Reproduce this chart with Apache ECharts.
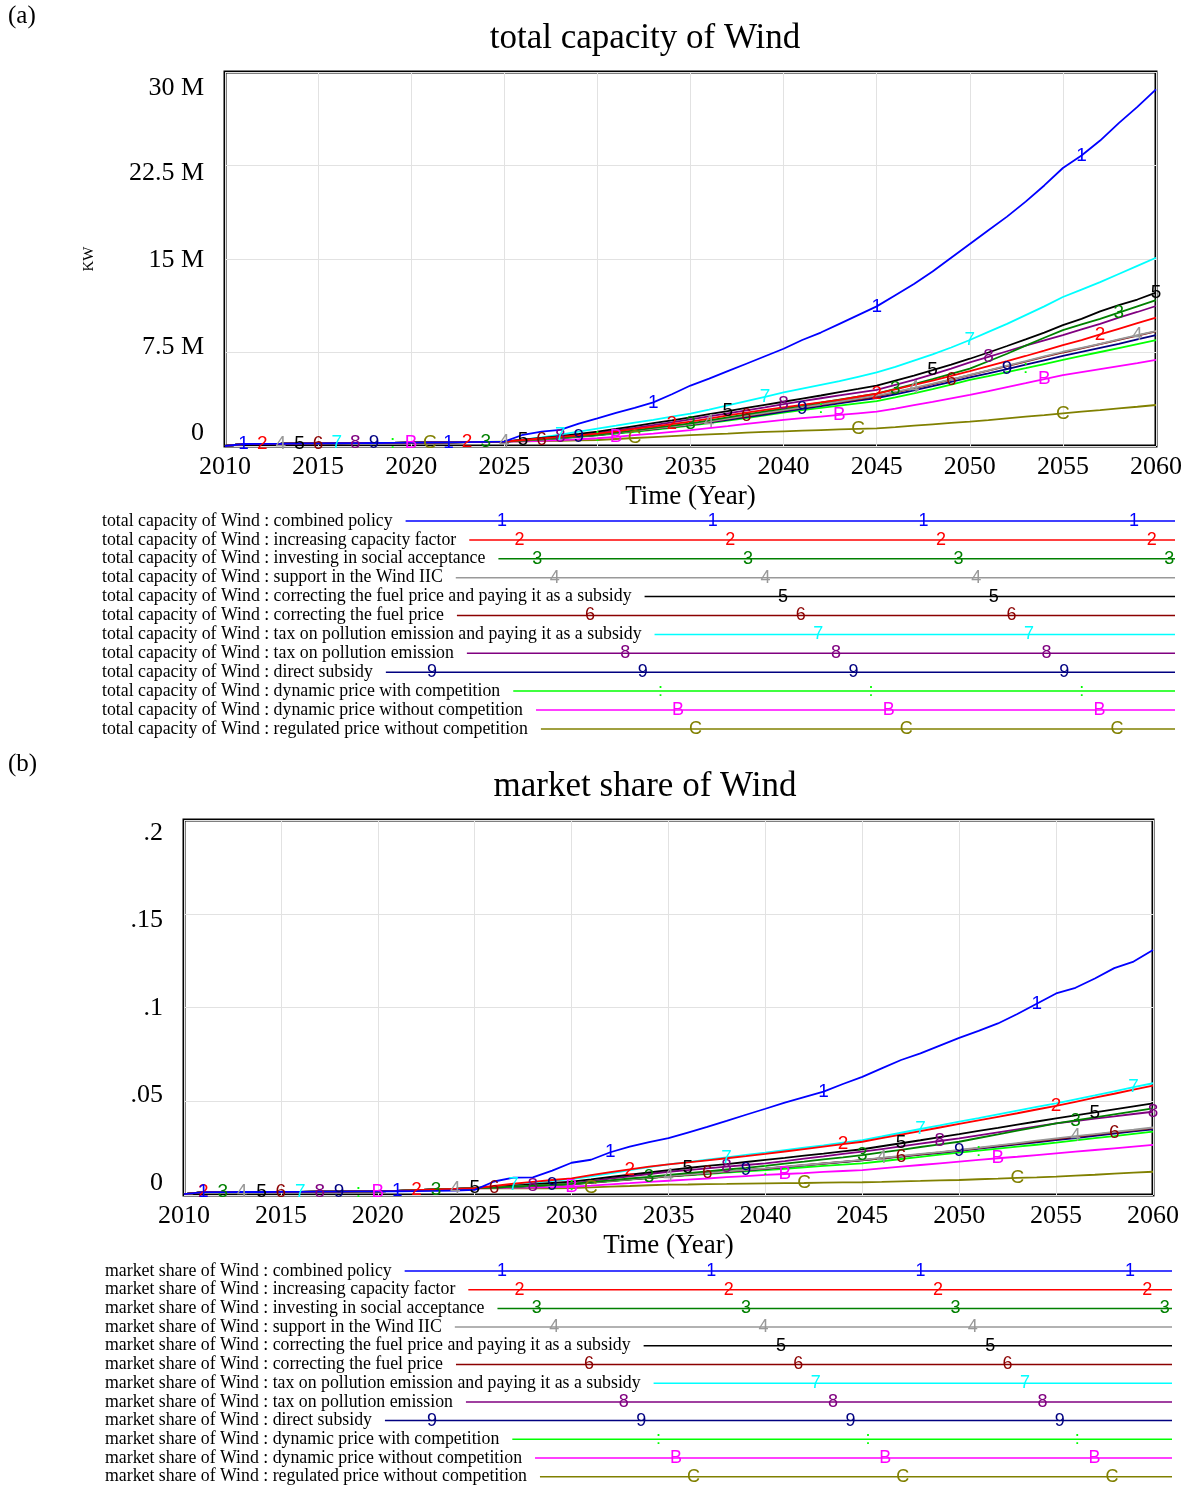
<!DOCTYPE html>
<html>
<head>
<meta charset="utf-8">
<script src="https://cdn.jsdelivr.net/npm/echarts@6/dist/echarts.min.js"></script>
<style>
  html, body { margin: 0; padding: 0; background: #fff; }
  #chart { width: 1192px; height: 1489px; }
</style>
</head>
<body>
<div id="chart"></div>
<script>
// policy scenarios, same order in both panels
const scenarios = [
  'combined policy',
  'increasing capacity factor',
  'investing in social acceptance',
  'support in the Wind IIC',
  'correcting the fuel price and paying it as a subsidy',
  'correcting the fuel price',
  'tax on pollution emission and paying it as a subsidy',
  'tax on pollution emission',
  'direct subsidy',
  'dynamic price with competition',
  'dynamic price without competition',
  'regulated price without competition'
];
const glyphs = ['1', '2', '3', '4', '5', '6', '7', '8', '9', ':', 'B', 'C'];
const colors = ['#0000ff', '#ff0000', '#008000', '#999999', '#000000', '#8b0000',
                '#00ffff', '#800080', '#000080', '#00ff00', '#ff00ff', '#808000'];

const years = [];
for (let y = 2010; y <= 2060; y++) years.push(y);

// ---- (a) total capacity of Wind, million KW ----
// 2010..2025, all scenarios run together
const capEarly = [0, 0.16, 0.17, 0.18, 0.2, 0.21, 0.22, 0.23, 0.24, 0.25, 0.27, 0.28, 0.29, 0.31, 0.33, 0.35];
// 2026..2060
const capCombined = [0.9, 1.15, 1.3, 1.8, 2.22, 2.65, 3.05, 3.5, 4.15, 4.85, 5.4, 6.0, 6.6, 7.2, 7.8, 8.5, 9.1, 9.8, 10.5, 11.2, 12.1, 13.0, 14.0, 15.1, 16.2, 17.3, 18.4, 19.6, 20.9, 22.3, 23.3, 24.5, 25.9, 27.2, 28.6];
const capCapFactor = [0.48, 0.6, 0.73, 0.86, 1.0, 1.18, 1.37, 1.56, 1.75, 1.95, 2.2, 2.45, 2.68, 2.9, 3.1, 3.3, 3.5, 3.7, 3.95, 4.2, 4.55, 4.9, 5.25, 5.62, 6.0, 6.4, 6.8, 7.22, 7.65, 8.1, 8.5, 8.95, 9.4, 9.85, 10.3];
const capSocial = [0.45, 0.55, 0.67, 0.78, 0.9, 1.08, 1.26, 1.45, 1.63, 1.82, 2.05, 2.3, 2.53, 2.77, 3.0, 3.23, 3.47, 3.72, 3.96, 4.2, 4.58, 4.97, 5.37, 5.78, 6.2, 6.8, 7.4, 8.05, 8.68, 9.3, 9.75, 10.2, 10.7, 11.2, 11.7];
const capIIC = [0.45, 0.54, 0.65, 0.77, 0.9, 1.05, 1.22, 1.39, 1.56, 1.74, 1.96, 2.2, 2.43, 2.66, 2.88, 3.1, 3.33, 3.57, 3.8, 4.05, 4.35, 4.67, 5.0, 5.35, 5.7, 6.07, 6.44, 6.8, 7.18, 7.56, 7.88, 8.2, 8.55, 8.9, 9.22];
const capFuelSubsidy = [0.5, 0.65, 0.8, 0.97, 1.15, 1.37, 1.6, 1.83, 2.06, 2.3, 2.55, 2.8, 3.05, 3.3, 3.55, 3.8, 4.05, 4.32, 4.58, 4.85, 5.25, 5.65, 6.08, 6.53, 7.0, 7.5, 8.02, 8.55, 9.1, 9.7, 10.2, 10.8, 11.3, 11.75, 12.3];
const capFuel = [0.45, 0.54, 0.65, 0.77, 0.9, 1.05, 1.21, 1.38, 1.55, 1.72, 1.94, 2.17, 2.4, 2.62, 2.85, 3.07, 3.3, 3.52, 3.75, 3.98, 4.3, 4.63, 4.97, 5.33, 5.68, 6.04, 6.41, 6.77, 7.14, 7.5, 7.84, 8.18, 8.52, 8.86, 9.2];
const capTaxSubsidy = [0.5, 0.7, 0.92, 1.15, 1.4, 1.63, 1.87, 2.1, 2.35, 2.6, 2.92, 3.25, 3.6, 3.95, 4.3, 4.6, 4.9, 5.2, 5.55, 5.9, 6.35, 6.85, 7.35, 7.9, 8.5, 9.15, 9.8, 10.5, 11.2, 11.95, 12.55, 13.15, 13.8, 14.45, 15.1];
const capTax = [0.48, 0.6, 0.74, 0.9, 1.05, 1.25, 1.45, 1.68, 1.9, 2.14, 2.38, 2.62, 2.86, 3.1, 3.35, 3.6, 3.83, 4.06, 4.28, 4.5, 4.9, 5.3, 5.75, 6.2, 6.7, 7.15, 7.6, 8.05, 8.48, 8.9, 9.35, 9.8, 10.3, 10.75, 11.23];
const capDirect = [0.44, 0.53, 0.64, 0.76, 0.88, 1.03, 1.19, 1.35, 1.52, 1.7, 1.9, 2.1, 2.31, 2.52, 2.75, 2.98, 3.2, 3.42, 3.64, 3.85, 4.15, 4.47, 4.8, 5.15, 5.5, 5.83, 6.17, 6.52, 6.87, 7.22, 7.55, 7.88, 8.2, 8.55, 8.9];
const capDynComp = [0.43, 0.52, 0.62, 0.73, 0.85, 0.99, 1.14, 1.3, 1.46, 1.63, 1.83, 2.03, 2.24, 2.45, 2.68, 2.88, 3.06, 3.24, 3.42, 3.6, 3.9, 4.22, 4.56, 4.92, 5.3, 5.6, 5.92, 6.24, 6.57, 6.9, 7.22, 7.54, 7.86, 8.18, 8.5];
const capDynNoComp = [0.38, 0.42, 0.47, 0.54, 0.62, 0.74, 0.87, 1.0, 1.14, 1.28, 1.44, 1.6, 1.77, 1.94, 2.1, 2.23, 2.36, 2.49, 2.62, 2.75, 3.0, 3.27, 3.54, 3.82, 4.1, 4.4, 4.72, 5.04, 5.37, 5.69, 5.93, 6.17, 6.41, 6.65, 6.9];
const capRegulated = [0.37, 0.39, 0.42, 0.45, 0.48, 0.56, 0.64, 0.72, 0.8, 0.88, 0.94, 1.0, 1.07, 1.13, 1.18, 1.23, 1.28, 1.33, 1.38, 1.42, 1.52, 1.63, 1.74, 1.85, 1.95, 2.08, 2.22, 2.35, 2.48, 2.62, 2.75, 2.88, 3.02, 3.15, 3.29];
const capTicks = ['0', '7.5 M', '15 M', '22.5 M', '30 M'];
// years where the scenario number sits on the curve
const capMarks = [
  [2011, 2022, 2033, 2045, 2056], [2012, 2023, 2034, 2045, 2057], [2024, 2035, 2046, 2058],
  [2013, 2025, 2036, 2047, 2059], [2014, 2026, 2037, 2048, 2060], [2015, 2027, 2038, 2049],
  [2016, 2028, 2039, 2050], [2017, 2028, 2040, 2051], [2018, 2029, 2041, 2052],
  [2019, 2030, 2042, 2053], [2020, 2031, 2043, 2054], [2021, 2032, 2044, 2055]
];

// ---- (b) market share of Wind ----
const shareEarlyCombined = [0.0005, 0.0015, 0.0015, 0.0016, 0.0016, 0.0017, 0.0017, 0.0018, 0.0018, 0.0019, 0.0019, 0.002, 0.0021, 0.0022, 0.0024, 0.0027];
const shareEarlyOthers = [0.0005, 0.0015, 0.0015, 0.0016, 0.0016, 0.0017, 0.0017, 0.0018, 0.0018, 0.0019, 0.0019, 0.0022, 0.0026, 0.003, 0.0033, 0.0036];
const shareCombined = [0.0072, 0.0093, 0.0094, 0.013, 0.0172, 0.0188, 0.0228, 0.0258, 0.0282, 0.0303, 0.0333, 0.0363, 0.0395, 0.0428, 0.046, 0.0493, 0.0522, 0.0551, 0.0592, 0.063, 0.0675, 0.072, 0.0755, 0.0797, 0.0838, 0.0875, 0.0915, 0.0965, 0.102, 0.1075, 0.1105, 0.1155, 0.121, 0.1245, 0.1307];
const shareCapFactor = [0.0048, 0.006, 0.007, 0.008, 0.0089, 0.0106, 0.0122, 0.0137, 0.0151, 0.0163, 0.0174, 0.0185, 0.0196, 0.0207, 0.0219, 0.0232, 0.0245, 0.0258, 0.0271, 0.0284, 0.0303, 0.0322, 0.0341, 0.036, 0.0379, 0.0398, 0.0417, 0.0436, 0.0456, 0.0475, 0.0497, 0.0519, 0.054, 0.0562, 0.0583];
const shareSocial = [0.004, 0.0045, 0.005, 0.0054, 0.0059, 0.0069, 0.0078, 0.0088, 0.0097, 0.0107, 0.0117, 0.0126, 0.0136, 0.0145, 0.0155, 0.0167, 0.0178, 0.019, 0.0201, 0.0213, 0.0227, 0.0241, 0.0256, 0.027, 0.0284, 0.0304, 0.0323, 0.0343, 0.0362, 0.0382, 0.0398, 0.0414, 0.043, 0.0446, 0.0462];
const shareIIC = [0.004, 0.0045, 0.005, 0.0054, 0.0059, 0.0067, 0.0076, 0.0084, 0.0093, 0.0101, 0.0109, 0.0117, 0.0126, 0.0134, 0.0142, 0.0151, 0.016, 0.0169, 0.0178, 0.0187, 0.0198, 0.0208, 0.0219, 0.0229, 0.024, 0.0252, 0.0265, 0.0277, 0.029, 0.0302, 0.0314, 0.0325, 0.0337, 0.0348, 0.036];
const shareFuelSubsidy = [0.0043, 0.005, 0.0057, 0.0064, 0.0071, 0.0083, 0.0096, 0.0108, 0.0121, 0.0133, 0.0144, 0.0155, 0.0165, 0.0176, 0.0187, 0.0198, 0.021, 0.0221, 0.0233, 0.0244, 0.026, 0.0276, 0.0292, 0.0309, 0.0325, 0.0342, 0.0358, 0.0375, 0.0392, 0.0409, 0.0425, 0.0441, 0.0457, 0.0473, 0.0489];
const shareFuel = [0.004, 0.0045, 0.0049, 0.0054, 0.0058, 0.0066, 0.0075, 0.0083, 0.0092, 0.01, 0.0108, 0.0116, 0.0125, 0.0133, 0.0141, 0.015, 0.0159, 0.0168, 0.0177, 0.0186, 0.0196, 0.0206, 0.0217, 0.0227, 0.0238, 0.025, 0.0262, 0.0274, 0.0286, 0.0298, 0.031, 0.0322, 0.0334, 0.0345, 0.0357];
const shareTaxSubsidy = [0.0045, 0.0055, 0.0065, 0.0075, 0.0085, 0.01, 0.0116, 0.0133, 0.0149, 0.0163, 0.0175, 0.0188, 0.0201, 0.0214, 0.0226, 0.0239, 0.0252, 0.0265, 0.0279, 0.0293, 0.0312, 0.0332, 0.0352, 0.0371, 0.0391, 0.041, 0.043, 0.045, 0.047, 0.0489, 0.051, 0.0531, 0.0553, 0.0575, 0.0596];
const shareTax = [0.0041, 0.0046, 0.0051, 0.0056, 0.0062, 0.0074, 0.0087, 0.0099, 0.0112, 0.0124, 0.0133, 0.0142, 0.0151, 0.016, 0.0169, 0.0181, 0.0194, 0.0206, 0.0219, 0.0231, 0.0245, 0.0259, 0.0274, 0.0288, 0.0302, 0.0318, 0.0334, 0.035, 0.0366, 0.0382, 0.0394, 0.0407, 0.0419, 0.0432, 0.0444];
const shareDirect = [0.004, 0.0044, 0.0049, 0.0053, 0.0058, 0.0066, 0.0075, 0.0083, 0.0092, 0.01, 0.0108, 0.0116, 0.0124, 0.0132, 0.014, 0.0149, 0.0158, 0.0167, 0.0176, 0.0185, 0.0195, 0.0205, 0.0215, 0.0225, 0.0235, 0.0247, 0.0258, 0.027, 0.0281, 0.0293, 0.0304, 0.0316, 0.0327, 0.0339, 0.035];
const shareDynComp = [0.004, 0.0044, 0.0048, 0.0053, 0.0057, 0.0065, 0.0073, 0.0082, 0.009, 0.0098, 0.0105, 0.0112, 0.0119, 0.0126, 0.0133, 0.014, 0.0148, 0.0155, 0.0162, 0.0169, 0.018, 0.0192, 0.0203, 0.0215, 0.0226, 0.0237, 0.0247, 0.0258, 0.0268, 0.0279, 0.0291, 0.0303, 0.0314, 0.0326, 0.0338];
const shareDynNoComp = [0.0037, 0.0039, 0.004, 0.0042, 0.0044, 0.005, 0.0057, 0.0063, 0.007, 0.0076, 0.0082, 0.0088, 0.0095, 0.0101, 0.0107, 0.0112, 0.0117, 0.0123, 0.0128, 0.0133, 0.0142, 0.0151, 0.016, 0.0169, 0.0178, 0.0187, 0.0196, 0.0204, 0.0213, 0.0222, 0.0231, 0.024, 0.0249, 0.0258, 0.0267];
const shareRegulated = [0.0036, 0.0036, 0.0036, 0.0036, 0.0037, 0.0041, 0.0045, 0.0048, 0.0052, 0.0055, 0.0056, 0.0058, 0.0059, 0.0061, 0.0062, 0.0063, 0.0064, 0.0066, 0.0067, 0.0068, 0.007, 0.0073, 0.0075, 0.0078, 0.008, 0.0084, 0.0087, 0.0091, 0.0094, 0.0098, 0.0103, 0.0108, 0.0114, 0.0119, 0.0124];
const shareTicks = ['0', '.05', '.1', '.15', '.2'];
const shareMarks = [
  [2011, 2021, 2032, 2043, 2054], [2011, 2022, 2033, 2044, 2055], [2012, 2023, 2034, 2045, 2056],
  [2013, 2024, 2035, 2046, 2056], [2014, 2025, 2036, 2047, 2057], [2015, 2026, 2037, 2047, 2058],
  [2016, 2027, 2038, 2048, 2059], [2017, 2028, 2038, 2049, 2060], [2018, 2029, 2039, 2050],
  [2019, 2030, 2040, 2051], [2020, 2030, 2041, 2052], [2031, 2042, 2053]
];

const capLate = [capCombined, capCapFactor, capSocial, capIIC, capFuelSubsidy, capFuel,
                 capTaxSubsidy, capTax, capDirect, capDynComp, capDynNoComp, capRegulated];
const shareLate = [shareCombined, shareCapFactor, shareSocial, shareIIC, shareFuelSubsidy, shareFuel,
                   shareTaxSubsidy, shareTax, shareDirect, shareDynComp, shareDynNoComp, shareRegulated];
const capSeries = capLate.map(a => capEarly.concat(a));
const shareSeries = shareLate.map((a, k) => (k === 0 ? shareEarlyCombined : shareEarlyOthers).concat(a));

const SERIF = '"Liberation Serif", "Times New Roman", serif';
const SANS = '"Liberation Sans", Arial, sans-serif';

const panels = [
  {
    title: 'total capacity of Wind', prefix: 'total capacity of Wind : ', tag: '(a)', tagY: 16, titleTop: 21,
    data: capSeries, marks: capMarks, ticks: capTicks, yMax: 30, yStep: 7.5, yName: 'KW',
    grid: { left: 225, top: 72, width: 931, height: 374 },
    tickShift: [-13, -5.5, 1, 7.5, 16],
    legend: { x: 102, y: 521, dy: 18.9, firstMark: 502, markStep: 17.6, period: 210.7, xEnd: 1175 }
  },
  {
    title: 'market share of Wind', prefix: 'market share of Wind : ', tag: '(b)', tagY: 764, titleTop: 769,
    data: shareSeries, marks: shareMarks, ticks: shareTicks, yMax: 0.2, yStep: 0.05, yName: '',
    grid: { left: 184, top: 820, width: 969, height: 375 },
    tickShift: [-12, -6, 0.5, 6, 13],
    legend: { x: 105, y: 1271, dy: 18.7, firstMark: 502, markStep: 17.4, period: 209.3, xEnd: 1172 }
  }
];

const measure = document.createElement('canvas').getContext('2d');
const LEGEND_FONT = '17.8px ' + SERIF;
measure.font = LEGEND_FONT;

const grids = [], xAxes = [], yAxes = [], series = [], titles = [], graphics = [];

panels.forEach((p, pi) => {
  grids.push(Object.assign({
    show: true, borderColor: '#000', borderWidth: 3, backgroundColor: 'transparent',
    containLabel: false, outerBoundsMode: 'none'
  }, p.grid));

  xAxes.push({
    gridIndex: pi, type: 'value', min: 2010, max: 2060, interval: 5,
    axisLine: { show: false }, axisTick: { show: false },
    splitLine: { show: true, lineStyle: { color: '#e2e2e2', width: 1 } },
    axisLabel: { color: '#000', fontSize: 26, fontFamily: SERIF, margin: 8, formatter: v => String(v) },
    name: 'Time (Year)', nameLocation: 'middle', nameGap: 37,
    nameTextStyle: { color: '#000', fontSize: 27, fontFamily: SERIF }
  });

  const rich = {};
  p.tickShift.forEach((d, i) => {
    rich['t' + i] = {
      color: '#000', fontSize: 26, fontFamily: SERIF,
      padding: d >= 0 ? [2 * d, 0, 0, 0] : [0, 0, -2 * d, 0]
    };
  });
  yAxes.push({
    gridIndex: pi, type: 'value', min: 0, max: p.yMax, interval: p.yStep,
    axisLine: { show: false }, axisTick: { show: false },
    splitLine: { show: true, lineStyle: { color: '#e2e2e2', width: 1 } },
    axisLabel: {
      margin: 21, verticalAlign: 'middle',
      formatter: v => {
        const i = Math.round(v / p.yStep);
        return '{t' + i + '|' + p.ticks[i] + '}';
      },
      rich: rich
    },
    name: p.yName, nameLocation: 'middle', nameGap: 128,
    nameTextStyle: { color: '#000', fontSize: 15, fontFamily: SERIF }
  });

  // draw scenario 1 last so it sits on top
  for (let k = scenarios.length - 1; k >= 0; k--) {
    const vals = p.data[k];
    const marks = p.marks[k];
    series.push({
      type: 'line', name: scenarios[k], xAxisIndex: pi, yAxisIndex: pi,
      data: years.map((yr, i) => {
        const item = { value: [yr, vals[i]] };
        if (marks.indexOf(yr) >= 0) item.label = { show: true };
        return item;
      }),
      symbol: 'circle', symbolSize: 0, showSymbol: true, showAllSymbol: true,
      lineStyle: { color: colors[k], width: 1.8 },
      itemStyle: { color: colors[k] },
      label: {
        show: false, position: 'inside', formatter: glyphs[k],
        color: colors[k], fontSize: 19, fontFamily: SANS
      },
      silent: true, animation: false
    });
  }

  titles.push({
    text: p.title, left: 645, top: p.titleTop, textAlign: 'center', padding: 0,
    textStyle: { color: '#000', fontSize: 35, fontWeight: 'normal', fontFamily: SERIF }
  });

  graphics.push({
    type: 'text', silent: true,
    style: { text: p.tag, x: 8, y: p.tagY, font: '25px ' + SERIF, fill: '#000',
             verticalAlign: 'middle', textVerticalAlign: 'middle' }
  });

  // legend rows: name, then a line carrying the scenario number
  const lg = p.legend;
  scenarios.forEach((name, k) => {
    const y = lg.y + k * lg.dy;
    const text = p.prefix + name;
    const lineStart = lg.x + measure.measureText(text).width + 13;
    graphics.push({
      type: 'text', silent: true,
      style: { text: text, x: lg.x, y: y, font: LEGEND_FONT, fill: '#000',
               verticalAlign: 'middle', textVerticalAlign: 'middle' }
    });
    graphics.push({
      type: 'line', silent: true,
      shape: { x1: lineStart, y1: y, x2: lg.xEnd, y2: y },
      style: { stroke: colors[k], lineWidth: 1.5 }
    });
    let mx = lg.firstMark + lg.markStep * k;
    while (mx - lg.period >= lineStart + 6) mx -= lg.period;
    while (mx < lineStart + 6) mx += lg.period;
    for (; mx <= lg.xEnd; mx += lg.period) {
      graphics.push({
        type: 'text', silent: true,
        style: { text: glyphs[k], x: mx, y: y, font: '18px ' + SANS, fill: colors[k],
                 align: 'center', textAlign: 'center',
                 verticalAlign: 'middle', textVerticalAlign: 'middle' }
      });
    }
  });
});

const chart = echarts.init(document.getElementById('chart'));
chart.setOption({
  backgroundColor: '#fff',
  animation: false,
  title: titles,
  grid: grids,
  xAxis: xAxes,
  yAxis: yAxes,
  series: series,
  graphic: graphics
});
</script>
</body>
</html>
